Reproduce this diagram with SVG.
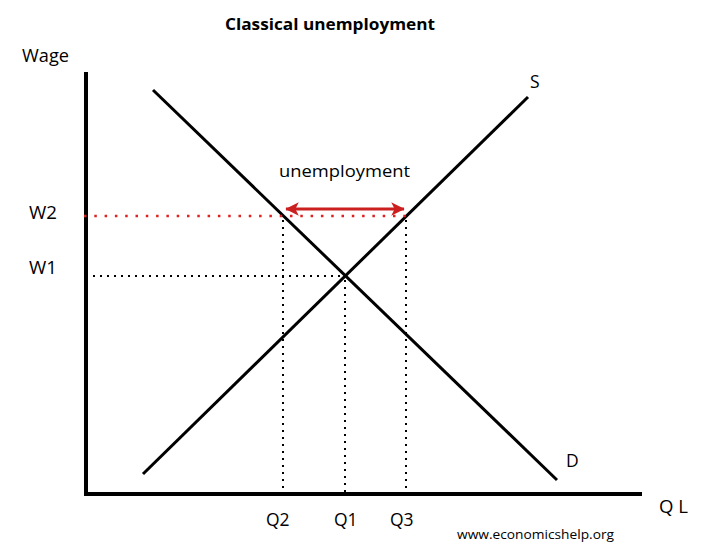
<svg xmlns="http://www.w3.org/2000/svg" width="704" height="549" viewBox="0 0 704 549">
<defs>
<style>
text{font-family:"Open Sans","Noto Sans","Liberation Sans",sans-serif;fill:#000}
.lbl{font-size:17.5px}
.curve{stroke:#000;stroke-width:3;fill:none}
.axis{stroke:#000;stroke-width:4;fill:none}
.dot{stroke:#000;stroke-width:2;stroke-dasharray:2 5;fill:none}
.rdot{stroke:#d22;stroke-width:2.5;stroke-dasharray:2.5 7.8;fill:none}
</style>
<marker id="ah" viewBox="0 0 10 10" refX="9.5" refY="5" markerWidth="4.2" markerHeight="4.2" orient="auto-start-reverse" markerUnits="strokeWidth">
<path d="M0,0 L10,5 L0,10 L2.5,5 Z" fill="#cc1f1f"/>
</marker>
</defs>
<rect width="704" height="549" fill="#fff"/>
<text x="330" y="30" text-anchor="middle" font-weight="bold" font-size="16" textLength="210" lengthAdjust="spacingAndGlyphs">Classical unemployment</text>
<g id="axes">
<line class="axis" x1="86" y1="72" x2="86" y2="496"/>
<line class="axis" x1="84" y1="494" x2="642" y2="494"/>
<text class="lbl" x="22" y="62" textLength="47" lengthAdjust="spacingAndGlyphs">Wage</text>
<text class="lbl" x="659" y="513" textLength="29" lengthAdjust="spacingAndGlyphs">Q L</text>
</g>
<g id="supply">
<line class="curve" x1="143" y1="474" x2="528" y2="97"/>
<text class="lbl" x="530" y="88">S</text>
</g>
<g id="demand">
<line class="curve" x1="153" y1="90" x2="557" y2="480"/>
<text class="lbl" x="566" y="467">D</text>
</g>
<g id="connectors">
<line class="rdot" x1="84" y1="216" x2="408" y2="216"/>
<line class="dot" x1="93" y1="276" x2="345" y2="276"/>
<line class="dot" x1="283" y1="220" x2="283" y2="494"/>
<line class="dot" x1="345" y1="280" x2="345" y2="494"/>
<line class="dot" x1="406" y1="220" x2="406" y2="494"/>
<line x1="286" y1="209" x2="404" y2="209" stroke="#cc1f1f" stroke-width="3.2" marker-start="url(#ah)" marker-end="url(#ah)"/>
</g>
<g id="labels">
<text class="lbl" x="29" y="219" textLength="28" lengthAdjust="spacingAndGlyphs">W2</text>
<text class="lbl" x="29" y="274" textLength="28" lengthAdjust="spacingAndGlyphs">W1</text>
<text class="lbl" x="266" y="526">Q2</text>
<text class="lbl" x="334" y="526">Q1</text>
<text class="lbl" x="390" y="526">Q3</text>
<text x="279" y="177" font-size="17" textLength="131" lengthAdjust="spacingAndGlyphs">unemployment</text>
<text x="457" y="539" font-size="13" textLength="157" lengthAdjust="spacingAndGlyphs">www.economicshelp.org</text>
</g>
</svg>
